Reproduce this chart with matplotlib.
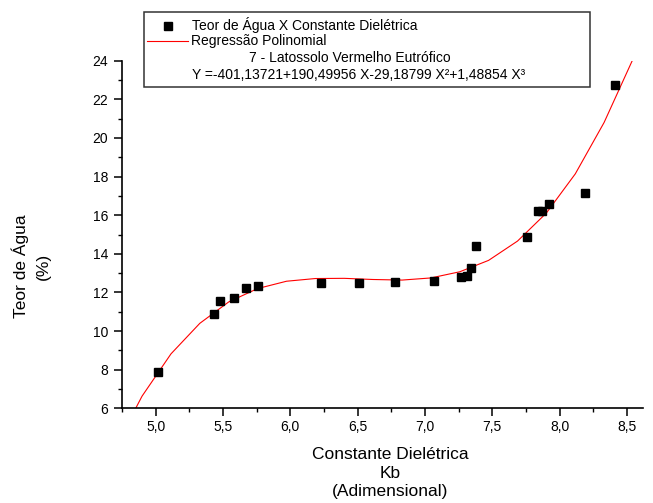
import matplotlib
matplotlib.use("Agg")
import matplotlib.pyplot as plt
from matplotlib.lines import Line2D
from matplotlib.patches import Rectangle
from matplotlib.ticker import MultipleLocator, FuncFormatter

plt.rcParams['font.family'] = ['Liberation Sans', 'DejaVu Sans']

# pontos medidos (Kb x teor de agua)
kb = [5.02, 5.43, 5.48, 5.58, 5.67, 5.76, 6.23, 6.51, 6.78, 7.07,
      7.27, 7.31, 7.345, 7.38, 7.76, 7.84, 7.87, 7.925, 8.19, 8.41]
teor = [7.86, 10.88, 11.54, 11.71, 12.25, 12.33, 12.50, 12.50, 12.54, 12.59,
        12.78, 12.87, 13.28, 14.40, 14.86, 16.22, 16.22, 16.56, 17.15, 22.74]

# curva de regressao (vertices da polilinha)
fit_x = [4.685, 4.899, 5.114, 5.328, 5.543, 5.757, 5.972, 6.186, 6.401, 6.615,
         6.830, 7.044, 7.259, 7.473, 7.688, 7.902, 8.117, 8.331, 8.540]
fit_y = [3.77, 6.63, 8.82, 10.40, 11.51, 12.20, 12.58, 12.72, 12.73, 12.67,
         12.64, 12.75, 13.07, 13.66, 14.66, 16.11, 18.14, 20.80, 24.00]

legend_lines = ["Teor de Água X Constante Dielétrica",
                "Regressão Polinomial",
                "7 - Latossolo Vermelho Eutrófico",
                "Y =-401,13721+190,49956 X-29,18799 X²+1,48854 X³"]
xlabel_lines = ["Constante Dielétrica", "Kb", "(Adimensional)"]
ylabel_lines = ["Teor de Água", "(%)"]

W, H = 653, 503
fig = plt.figure(figsize=(W / 100, H / 100), dpi=100)


def fx(px):  # pixel -> figura
    return px / W


def fy(py):
    return 1 - py / H


ax = fig.add_axes([fx(122), fy(408.3), fx(643) - fx(122), fy(60.7) - fy(408.3)])

ax.plot(fit_x, fit_y, color='#ff0000', lw=0.8, zorder=2)
ax.plot(kb, teor, ls='none', marker='s', ms=5.8, color='black', zorder=3)

ax.set_xlim(4.75, 8.62)
ax.set_ylim(6, 24)
ax.xaxis.set_major_locator(MultipleLocator(0.5))
ax.xaxis.set_minor_locator(MultipleLocator(0.25))
ax.yaxis.set_major_locator(MultipleLocator(2))
ax.yaxis.set_minor_locator(MultipleLocator(1))
ax.xaxis.set_major_formatter(FuncFormatter(lambda v, p: ("%.1f" % v).replace('.', ',')))
ax.yaxis.set_major_formatter(FuncFormatter(lambda v, p: "%d" % v))

for s in ['top', 'right']:
    ax.spines[s].set_visible(False)
for s in ['left', 'bottom']:
    ax.spines[s].set_linewidth(1.2)
    ax.spines[s].set_color('black')

ax.tick_params(axis='both', which='major', direction='out', length=5.5, width=1.1,
               labelsize=10, color='black')
ax.tick_params(axis='both', which='minor', direction='out', length=3, width=1.0)
ax.tick_params(axis='x', which='major', pad=3)
ax.tick_params(axis='y', which='major', pad=4.5)

# rotulos dos eixos
fig.text(fx(390), fy(473), "\n".join(xlabel_lines), ha='center', va='center',
         fontsize=12.5, linespacing=1.3)
fig.text(fx(31), fy(266), "\n".join(ylabel_lines), ha='center', va='center',
         rotation=90, fontsize=12.5, linespacing=1.55)

# caixa de legenda desenhada a mao
fig.add_artist(Rectangle((fx(144), fy(87)), fx(590) - fx(144), fy(12) - fy(87),
                         transform=fig.transFigure, facecolor='white',
                         edgecolor='#333333', lw=1.1, zorder=5))
fig.add_artist(Line2D([fx(167.7)], [fy(25.5)], marker='s', ms=5.5, color='black',
                      ls='none', transform=fig.transFigure, zorder=6))
fig.add_artist(Line2D([fx(147), fx(188)], [fy(41), fy(41)], color='#ff0000', lw=0.8,
                      transform=fig.transFigure, zorder=6))
fig.text(fx(192), fy(25), legend_lines[0], ha='left', va='center', fontsize=10, zorder=7)
fig.text(fx(191), fy(41.5), legend_lines[1], ha='left', va='center', fontsize=10, zorder=7)
fig.text(fx(249), fy(58), legend_lines[2], ha='left', va='center', fontsize=10, zorder=7)
fig.text(fx(192), fy(74.5), legend_lines[3], ha='left', va='center', fontsize=10, zorder=7)

fig.savefig("out.png", dpi=100)
